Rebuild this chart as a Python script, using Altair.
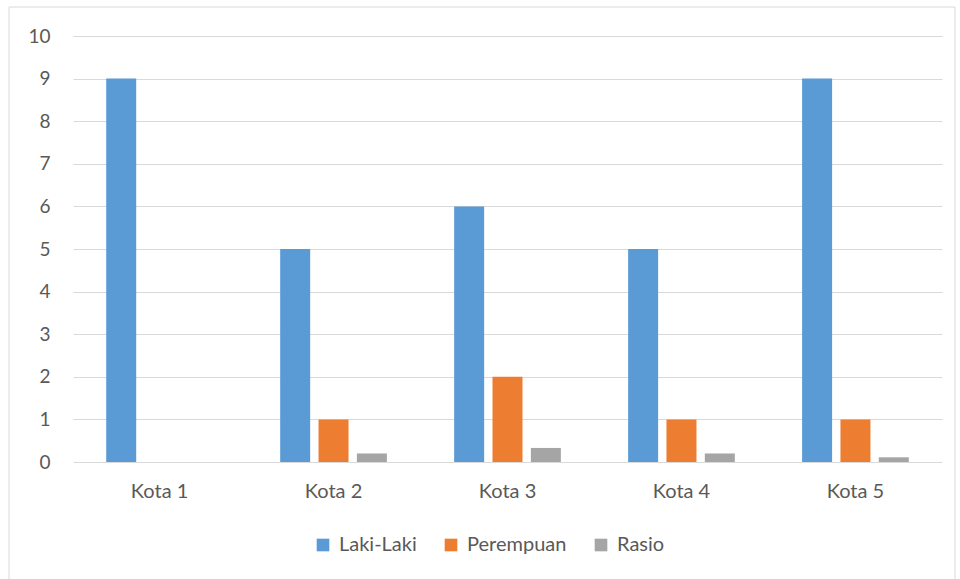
import altair as alt
import pandas as pd

categories = ["Kota 1", "Kota 2", "Kota 3", "Kota 4", "Kota 5"]
series = ["Laki-Laki", "Perempuan", "Rasio"]
laki_laki = [9, 5, 6, 5, 9]
perempuan = [0, 1, 2, 1, 1]
rasio = [0, 0.2, 0.33, 0.2, 0.11]
colors = ["#5B9BD5", "#ED7D31", "#A5A5A5"]

rows = []
for i, c in enumerate(categories):
    for s, vals in zip(series, [laki_laki, perempuan, rasio]):
        rows.append({"Kota": c, "Seri": s, "Nilai": vals[i]})
df = pd.DataFrame(rows)

FONT = "Lato"

frame = alt.Chart(pd.DataFrame({"a": [0]})).mark_rect(
    filled=False, stroke="#D9D9D9", strokeWidth=1
).encode(
    x=alt.value(-64), x2=alt.value(882), y=alt.value(-29), y2=alt.value(560)
)

bars = alt.Chart(df).mark_bar(size=30).encode(
    x=alt.X("Kota:N", sort=categories, title=None,
            scale=alt.Scale(paddingInner=0.385, paddingOuter=0.19),
            axis=alt.Axis(labelAngle=0, domain=False, ticks=False, labelPadding=19,
                          labelFontSize=20, labelColor="#595959", labelFont=FONT, grid=False)),
    xOffset=alt.XOffset("Seri:N", sort=series,
                        scale=alt.Scale(paddingInner=0.21, paddingOuter=0)),
    y=alt.Y("Nilai:Q", title=None,
            scale=alt.Scale(domain=[0, 10]),
            axis=alt.Axis(values=list(range(0, 11)), domain=False, ticks=False, labelPadding=23,
                          labelFontSize=19, labelColor="#595959", labelFont=FONT,
                          gridColor="#D9D9D9", gridWidth=1)),
    color=alt.Color("Seri:N", sort=series,
                    scale=alt.Scale(domain=series, range=colors),
                    legend=alt.Legend(title=None, orient="none", direction="horizontal",
                                      legendX=240, legendY=499,
                                      symbolType="square", symbolSize=160, symbolStrokeWidth=0,
                                      labelFontSize=20, labelColor="#595959", labelFont=FONT,
                                      columnPadding=24, symbolOffset=0, labelOffset=6)),
)

chart = alt.layer(frame, bars).properties(
    width=869, height=426,
    autosize=alt.AutoSizeParams(type="none"),
    padding={"left": 73, "top": 36, "right": 18, "bottom": 117},
    background="white",
).configure_view(stroke=None)

chart.save("out.html", embed_options={"renderer": "svg", "actions": False})
